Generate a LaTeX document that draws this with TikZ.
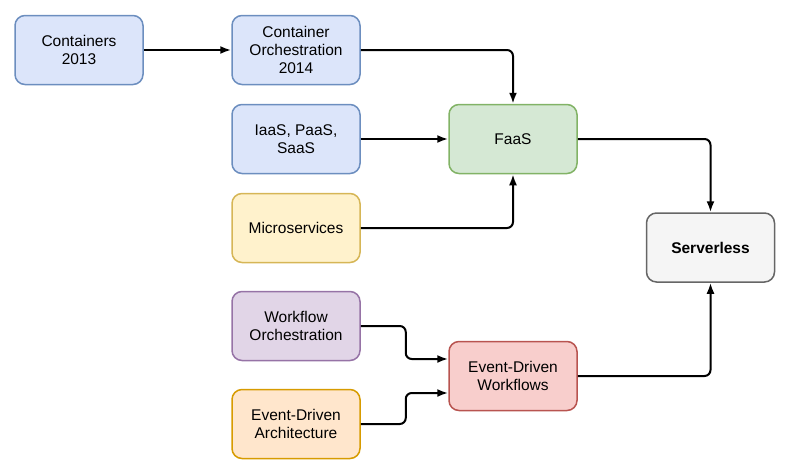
\documentclass[tikz,border=0pt]{standalone}
\usepackage{fontspec}
\setmainfont{Liberation Sans}
\usetikzlibrary{arrows.meta}

\definecolor{blueFill}{HTML}{DCE5FA}
\definecolor{blueLine}{HTML}{6C8EBF}
\definecolor{greenFill}{HTML}{D5E8D4}
\definecolor{greenLine}{HTML}{82B366}
\definecolor{yellowFill}{HTML}{FFF2CC}
\definecolor{yellowLine}{HTML}{D6B656}
\definecolor{purpleFill}{HTML}{E1D5E7}
\definecolor{purpleLine}{HTML}{9673A6}
\definecolor{orangeFill}{HTML}{FFE6CC}
\definecolor{orangeLine}{HTML}{D79B00}
\definecolor{redFill}{HTML}{F8CECC}
\definecolor{redLine}{HTML}{B85450}
\definecolor{grayFill}{HTML}{F5F5F5}
\definecolor{grayLine}{HTML}{666666}

\tikzset{
  box/.style={draw, rounded corners=10pt, line width=1.5pt, align=center,
    minimum width=128pt, minimum height=69pt, inner sep=2pt,
    font=\fontsize{15.5}{18.3}\selectfont},
  link/.style={line width=2pt, rounded corners=6pt,
    -{Latex[length=11pt,width=8pt]}}
}

\begin{document}
\begin{tikzpicture}[x=1pt,y=-1pt]
  \useasboundingbox (0,0) rectangle (787,472);
  \node[box,fill=blueFill,draw=blueLine] (C-1) at (79,50) {Containers\\2013};
  \node[box,fill=blueFill,draw=blueLine] (C-2) at (296,50) {Container\\Orchestration\\2014};
  \node[box,fill=blueFill,draw=blueLine] (C-3) at (296,139) {IaaS, PaaS,\\SaaS};
  \node[box,fill=yellowFill,draw=yellowLine] (C-4) at (296,228) {Microservices};
  \node[box,fill=purpleFill,draw=purpleLine] (C-5) at (296,326) {Workflow\\Orchestration};
  \node[box,fill=orangeFill,draw=orangeLine] (C-6) at (296,424) {Event-Driven\\Architecture};
  \node[box,fill=greenFill,draw=greenLine] (F-1) at (513,139) {FaaS};
  \node[box,fill=redFill,draw=redLine] (E-1) at (513,376) {Event-Driven\\Workflows};
  \node[box,fill=grayFill,draw=grayLine] (S-1) at (710.5,247.5) {\textbf{Serverless}};
  \draw[link] (C-1) -- (C-2);
  \draw[link] (C-2.east) -| (F-1.north);
  \draw[link] (C-3) -- (F-1);
  \draw[link] (C-4.east) -| (F-1.south);
  \draw[link] (F-1.east) -| (S-1.north);
  \draw[link] (C-5.east) -- ++(45,0) |- ([yshift=17pt]E-1.west);
  \draw[link] (C-6.east) -- ++(45,0) |- ([yshift=-17pt]E-1.west);
  \draw[link] (E-1.east) -| (S-1.south);
\end{tikzpicture}
\end{document}
